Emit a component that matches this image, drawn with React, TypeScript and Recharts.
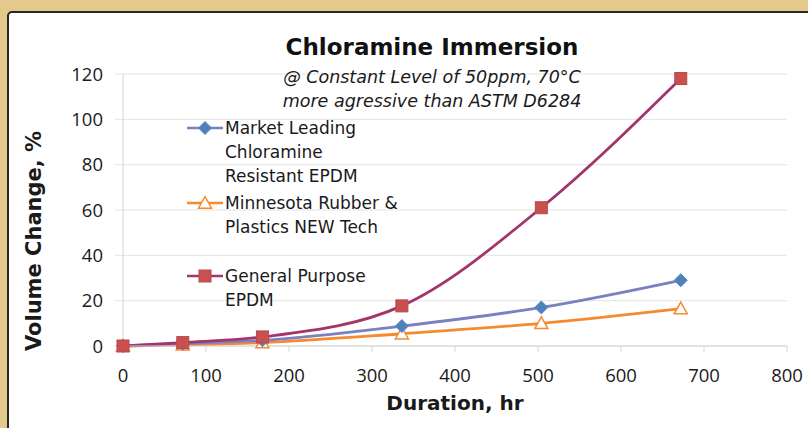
import React from "react";
import { LineChart, Line, XAxis, YAxis, CartesianGrid } from "recharts";

const hours = [0, 72, 168, 336, 504, 672];
const marketLeading = [0, 1, 2.5, 8.8, 17, 29];
const minnesota = [0, 0.5, 1.5, 5.4, 10, 16.5];
const generalPurpose = [0, 1.5, 4, 17.7, 61, 118];
const xTicks = [0, 100, 200, 300, 400, 500, 600, 700, 800];
const yTicks = [0, 20, 40, 60, 80, 100, 120];

const seriesNames = {
  market: "Market Leading\nChloramine\nResistant EPDM",
  minnesota: "Minnesota Rubber &\nPlastics NEW Tech",
  general: "General Purpose\nEPDM",
};

const data = hours.map((h, i) => ({
  h,
  market: marketLeading[i],
  minnesota: minnesota[i],
  general: generalPurpose[i],
}));

const C = {
  marketLine: "#7c7fc0",
  marketMarker: "#4f81bd",
  orange: "#f58a2e",
  redLine: "#a3346c",
  redMarker: "#c9504f",
};

const FONT = "'DejaVu Sans', sans-serif";
const TICKFONT = "'Open Sans', sans-serif";

const Diamond = (props: any) => {
  const { cx, cy } = props;
  if (cx == null || cy == null) return null;
  const r = 6.5;
  return (
    <path
      key={`d-${cx}`}
      d={`M${cx},${cy - r}L${cx + r},${cy}L${cx},${cy + r}L${cx - r},${cy}Z`}
      fill={C.marketMarker}
      stroke="#5a86c0"
      strokeWidth={1}
    />
  );
};

const Triangle = (props: any) => {
  const { cx, cy } = props;
  if (cx == null || cy == null) return null;
  const r = 6.5;
  return (
    <path
      key={`t-${cx}`}
      d={`M${cx},${cy - r}L${cx + r},${cy + r * 0.8}L${cx - r},${cy + r * 0.8}Z`}
      fill="#ffffff"
      stroke={C.orange}
      strokeWidth={1.5}
    />
  );
};

const Square = (props: any) => {
  const { cx, cy } = props;
  if (cx == null || cy == null) return null;
  const r = 6;
  return (
    <rect
      key={`s-${cx}`}
      x={cx - r}
      y={cy - r}
      width={2 * r}
      height={2 * r}
      fill={C.redMarker}
      stroke="#b8484a"
      strokeWidth={1}
    />
  );
};

const LegendIcon = ({ kind, y }: { kind: string; y: number }) => {
  const cx = 18;
  let line = C.marketLine;
  let marker: React.ReactNode = null;
  if (kind === "market") {
    line = C.marketLine;
    marker = <Diamond cx={cx} cy={y} />;
  } else if (kind === "minnesota") {
    line = C.orange;
    marker = <Triangle cx={cx} cy={y} />;
  } else {
    line = C.redLine;
    marker = <Square cx={cx} cy={y} />;
  }
  return (
    <g>
      <line x1={0} x2={36} y1={y} y2={y} stroke={line} strokeWidth={2.5} />
      {marker}
    </g>
  );
};

const LegendBox = () => {
  const items: { key: string; top: number; text: string }[] = [
    { key: "market", top: 0, text: seriesNames.market },
    { key: "minnesota", top: 75, text: seriesNames.minnesota },
    { key: "general", top: 148, text: seriesNames.general },
  ];
  return (
    <div style={{ position: "absolute", left: 187, top: 116, width: 260, height: 200 }}>
      {items.map((it) => (
        <div key={it.key} style={{ position: "absolute", left: 0, top: it.top, display: "flex" }}>
          <svg width={38} height={24} style={{ display: "block" }}>
            <LegendIcon kind={it.key} y={12} />
          </svg>
          <div
            style={{
              fontFamily: FONT,
              fontSize: 17,
              lineHeight: "24px",
              color: "#1a1a1a",
              whiteSpace: "pre",
            }}
          >
            {it.text}
          </div>
        </div>
      ))}
    </div>
  );
};

const YLabel = () => (
  <text
    x={34}
    y={241}
    transform="rotate(-90 34 241)"
    textAnchor="middle"
    dominantBaseline="central"
    style={{ fontFamily: FONT, fontWeight: "bold", fontSize: 21, fill: "#1a1a1a" }}
  >
    Volume Change, %
  </text>
);

export default function App() {
  return (
    <div
      style={{
        position: "absolute",
        left: 0,
        top: 0,
        width: 808,
        height: 428,
        background: "#e3c98b",
        overflow: "hidden",
      }}
    >
      <div
        style={{
          position: "absolute",
          left: 7,
          top: 11,
          width: 820,
          height: 440,
          background: "#ffffff",
          border: "2px solid #262626",
          borderRadius: 5,
        }}
      />
      <div style={{ position: "absolute", left: 0, top: 0 }}>
        <LineChart
          width={808}
          height={428}
          data={data}
          margin={{ top: 74, right: 21, left: 0, bottom: 0 }}
        >
          <CartesianGrid vertical={false} stroke="#e4e4e4" strokeWidth={1} />
          <XAxis
            dataKey="h"
            type="number"
            domain={[0, 800]}
            ticks={xTicks}
            height={82}
            tickSize={6}
            tickMargin={17}
            axisLine={{ stroke: "#d4d4d4" }}
            tickLine={{ stroke: "#d4d4d4" }}
            tick={{ fontFamily: TICKFONT, fontSize: 18.5, fill: "#1a1a1a" }}
            label={{
              value: "Duration, hr",
              position: "insideBottom",
              offset: 18,
              style: { fontFamily: FONT, fontWeight: "bold", fontSize: 20, fill: "#1a1a1a" },
            }}
          />
          <YAxis
            type="number"
            domain={[0, 120]}
            ticks={yTicks}
            width={123}
            tickSize={8}
            tickMargin={12}
            axisLine={{ stroke: "#d4d4d4" }}
            tickLine={{ stroke: "#e4e4e4" }}
            tick={{ fontFamily: TICKFONT, fontSize: 18.5, fill: "#1a1a1a" }}
            label={{ content: () => <YLabel /> }}
          />
          <Line
            type="monotone"
            dataKey="minnesota"
            name={seriesNames.minnesota}
            stroke={C.orange}
            strokeWidth={2.8}
            dot={<Triangle />}
            activeDot={false}
            isAnimationActive={false}
          />
          <Line
            type="monotone"
            dataKey="market"
            name={seriesNames.market}
            stroke={C.marketLine}
            strokeWidth={2.8}
            dot={<Diamond />}
            activeDot={false}
            isAnimationActive={false}
          />
          <Line
            type="monotone"
            dataKey="general"
            name={seriesNames.general}
            stroke={C.redLine}
            strokeWidth={2.8}
            dot={<Square />}
            activeDot={false}
            isAnimationActive={false}
          />
        </LineChart>
      </div>
      <LegendBox />
      <div
        style={{
          position: "absolute",
          left: 232,
          width: 400,
          top: 34,
          textAlign: "center",
          fontFamily: FONT,
          fontWeight: "bold",
          fontSize: 23,
          color: "#111",
        }}
      >
        Chloramine Immersion
      </div>
      <div
        style={{
          position: "absolute",
          left: 232,
          width: 400,
          top: 65,
          textAlign: "center",
          fontFamily: FONT,
          fontStyle: "italic",
          fontSize: 17.5,
          lineHeight: "24px",
          color: "#1a1a1a",
        }}
      >
        @ Constant Level of 50ppm, 70°C
        <br />
        more agressive than ASTM D6284
      </div>
    </div>
  );
}
